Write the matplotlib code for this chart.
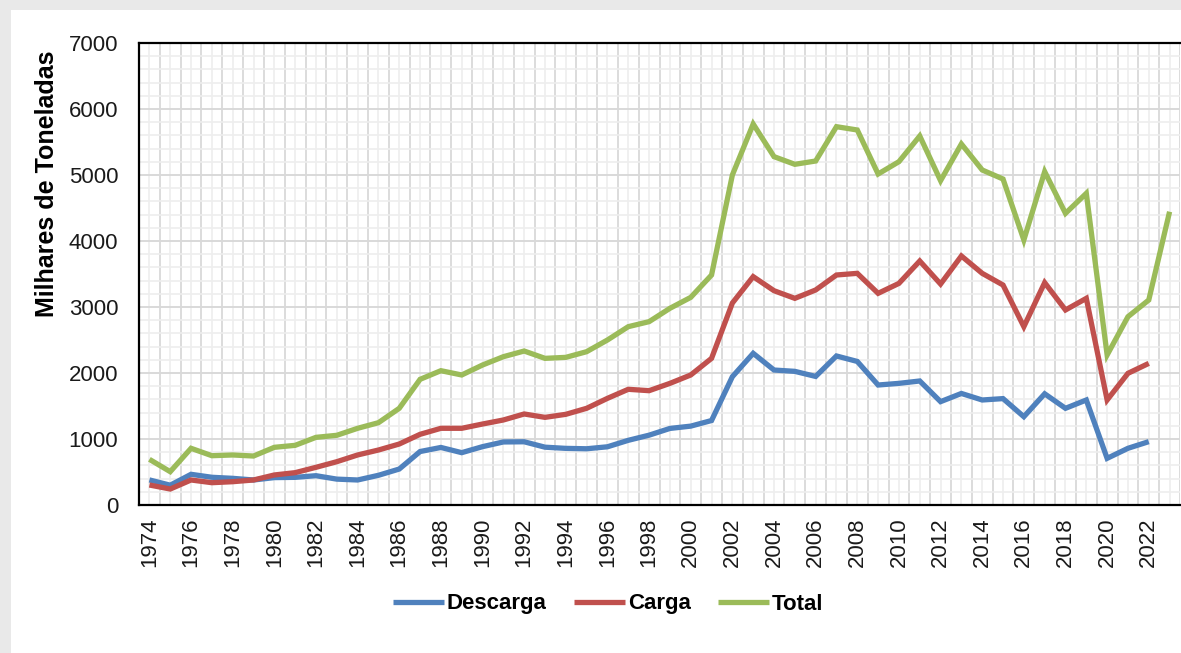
import numpy as np
import matplotlib
matplotlib.use('Agg')
import matplotlib.pyplot as plt
from matplotlib.patches import Rectangle
from matplotlib.ticker import MultipleLocator, FixedLocator

plt.rcParams['font.family'] = ['Liberation Sans', 'DejaVu Sans']

years = list(range(1974, 2024))

# milhares de toneladas (2023 so tem o total)
descarga = [380, 300, 465, 420, 404, 379, 415, 419, 444, 392, 379, 450, 545, 810,
            872, 793, 884, 955, 958, 876, 858, 852, 882, 980, 1058, 1160, 1195, 1280,
            1944, 2298, 2045, 2025, 1948, 2258, 2175, 1818, 1843, 1879, 1566, 1690,
            1591, 1612, 1338, 1685, 1465, 1591, 707, 859, 960, np.nan]
carga = [303, 242, 379, 338, 353, 379, 455, 490, 571, 656, 758, 833, 924, 1071,
         1162, 1162, 1227, 1288, 1379, 1328, 1374, 1465, 1616, 1753, 1732, 1843, 1970, 2222,
         3060, 3460, 3247, 3131, 3258, 3485, 3510, 3207, 3358, 3697, 3348, 3773,
         3510, 3333, 2702, 3369, 2955, 3131, 1591, 1995, 2146, np.nan]
total = [692, 505, 859, 747, 758, 742, 874, 904, 1025, 1056, 1162, 1247, 1465, 1904,
         2035, 1970, 2121, 2247, 2333, 2222, 2237, 2323, 2500, 2702, 2778, 2980, 3146, 3485,
         5000, 5773, 5278, 5162, 5212, 5732, 5682, 5015, 5202, 5591, 4914, 5470,
         5076, 4939, 4015, 5051, 4419, 4722, 2273, 2853, 3106, 4444]

series = [('Descarga', descarga, '#4F81BD'),
          ('Carga', carga, '#C0504D'),
          ('Total', total, '#9BBB59')]

W, H = 1181, 653
fig = plt.figure(figsize=(W / 100, H / 100), dpi=100)
fig.patch.set_facecolor('#e9e9e9')
fig.patches.append(Rectangle((11 / W, 0), 1, 1 - 10 / H, transform=fig.transFigure,
                             facecolor='white', edgecolor='none', zorder=-10))

ax = fig.add_axes([139 / W, 1 - 505 / H, 1041 / W, 462 / H])
x = np.arange(len(years))
for name, vals, col in series:
    ax.plot(x, vals, color=col, lw=3.8, label=name, solid_capstyle='butt',
            solid_joinstyle='miter', zorder=3)

ax.set_xlim(-0.5, len(years) - 0.5)
ax.set_ylim(0, 7000)

ax.yaxis.set_major_locator(MultipleLocator(1000))
ax.yaxis.set_minor_locator(MultipleLocator(200))
ax.xaxis.set_major_locator(FixedLocator(x[::2]))
ax.set_xticklabels([str(y) for y in years[::2]], rotation=90)

# grelha: linhas mais escuras entre categorias, claras no centro
ax.grid(which='major', axis='y', color='#d9d9d9', lw=1.4, zorder=1)
ax.grid(which='minor', axis='y', color='#eeeeee', lw=1.2, zorder=1)
for b in np.arange(-0.5, len(years), 1.0):
    ax.axvline(b, color='#dcdcdc', lw=1.4, zorder=1)
for c in x:
    ax.axvline(c, color='#eeeeee', lw=1.2, zorder=1)

ax.tick_params(axis='both', which='both', length=0, labelsize=16, colors='#1a1a1a')
ax.tick_params(axis='y', pad=15)
ax.tick_params(axis='x', pad=9)

for s in ['left', 'bottom', 'top']:
    ax.spines[s].set_linewidth(1.6)
    ax.spines[s].set_color('black')
ax.spines['right'].set_visible(False)

ax.set_ylabel('Milhares de Toneladas', fontsize=18, fontweight='bold')
ax.yaxis.set_label_coords(-80 / 1041, (505 - 184) / 462)

leg = fig.legend(loc='center', bbox_to_anchor=(608 / W, 1 - 604 / H), ncol=3,
                 frameon=False, prop={'size': 16, 'weight': 'bold'},
                 handlelength=2.3, handletextpad=0.15, columnspacing=1.2)

fig.savefig('out.png', dpi=100, facecolor=fig.get_facecolor())
